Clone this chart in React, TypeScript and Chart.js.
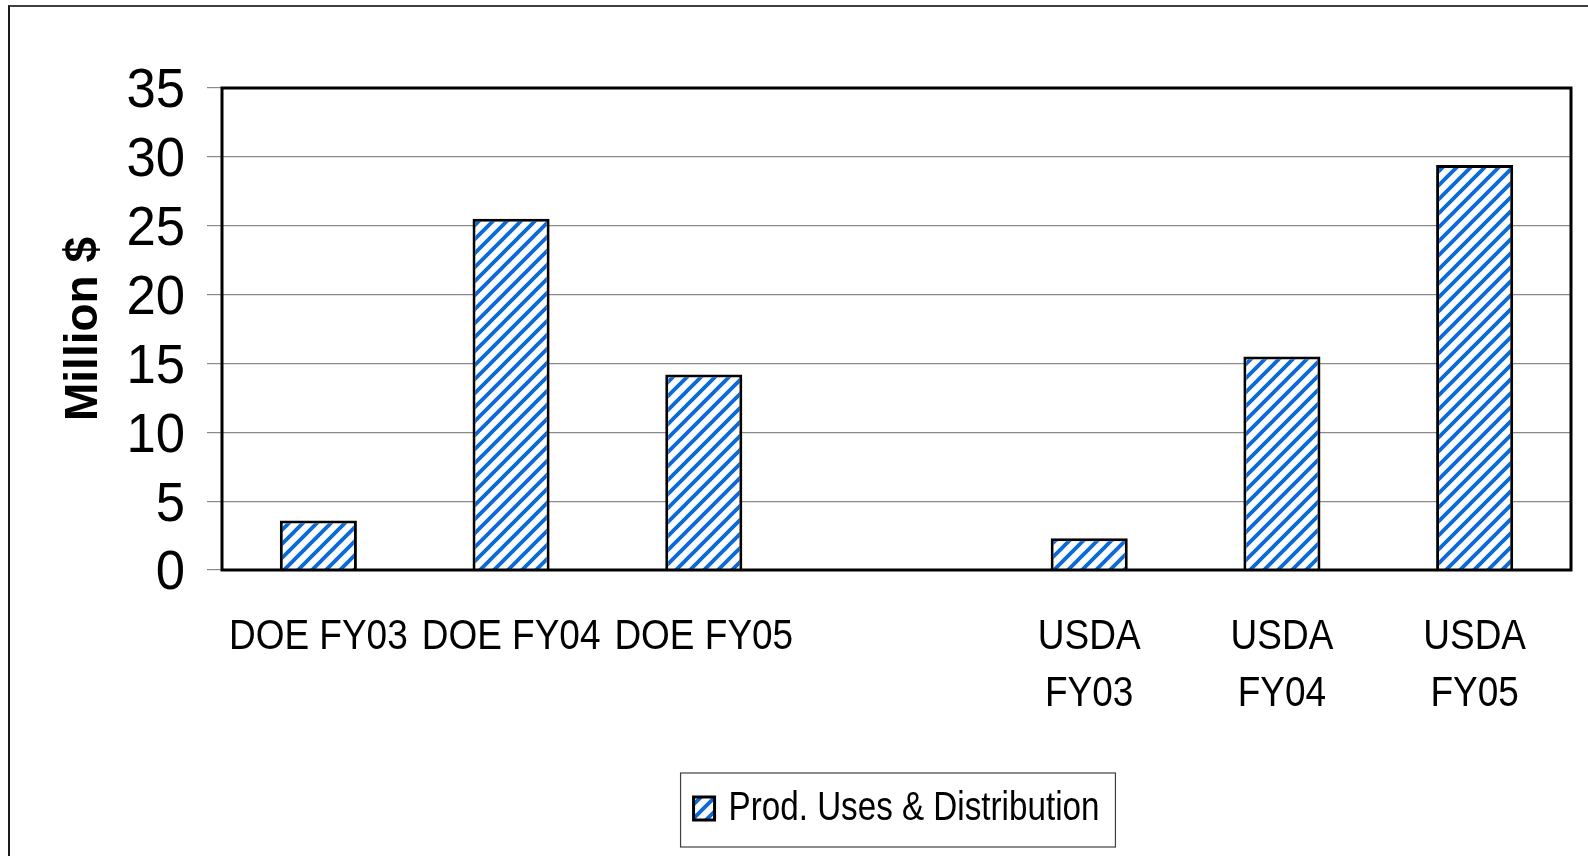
import React, { useEffect, useRef } from "react";
import { Chart, registerables } from "chart.js";

Chart.register(...registerables);

const categories: string[][] = [
  ["DOE FY03"],
  ["DOE FY04"],
  ["DOE FY05"],
  [""],
  ["USDA", "FY03"],
  ["USDA", "FY04"],
  ["USDA", "FY05"],
];
const seriesName = "Prod. Uses & Distribution";
const seriesValues: (number | null)[] = [3.6, 25.5, 14.2, null, 2.3, 15.5, 29.4];
const yTicks = [0, 5, 10, 15, 20, 25, 30, 35];
const yTitle = "Million $";

const SANS = '"Liberation Sans", Arial, sans-serif';

function makePattern(): CanvasPattern | string {
  const p = 14;
  const c = document.createElement("canvas");
  c.width = p;
  c.height = p;
  const g = c.getContext("2d");
  if (!g) return "#0066cc";
  g.fillStyle = "#ffffff";
  g.fillRect(0, 0, p, p);
  g.strokeStyle = "#0a6ad6";
  g.lineWidth = 3.8;
  g.lineCap = "square";
  g.beginPath();
  g.moveTo(-2, p + 2);
  g.lineTo(p + 2, -2);
  g.moveTo(-3, 3);
  g.lineTo(3, -3);
  g.moveTo(p - 3, p + 3);
  g.lineTo(p + 3, p - 3);
  g.stroke();
  const pat = g.createPattern(c, "repeat");
  return pat || "#0066cc";
}

function squeezedText(
  ctx: CanvasRenderingContext2D,
  text: string,
  x: number,
  y: number,
  sx: number,
  align: CanvasTextAlign,
  baseline: CanvasTextBaseline
) {
  ctx.save();
  ctx.translate(x, y);
  ctx.scale(sx, 1);
  ctx.textAlign = align;
  ctx.textBaseline = baseline;
  ctx.fillText(text, 0, 0);
  ctx.restore();
}

const framePlugin = {
  id: "frame",
  afterDatasetsDraw(chart: any) {
    const { ctx, chartArea } = chart;
    ctx.save();
    ctx.strokeStyle = "#000";
    ctx.lineWidth = 3;
    ctx.strokeRect(
      chartArea.left,
      chartArea.top,
      chartArea.right - chartArea.left,
      chartArea.bottom - chartArea.top
    );
    ctx.restore();
  },
  afterDraw(chart: any) {
    const { ctx, chartArea } = chart;
    const xs = chart.scales.x;
    const ys = chart.scales.y;
    ctx.save();
    ctx.fillStyle = "#000";

    // y tick labels
    ctx.font = `56px ${SANS}`;
    ys.ticks.forEach((t: any) => {
      const y = ys.getPixelForValue(t.value);
      squeezedText(ctx, String(t.value), chartArea.left - 15 - 22, y + 4, 0.94, "right", "middle");
    });

    // x tick labels
    ctx.font = `43px ${SANS}`;
    const labels = chart.data.labels as string[][];
    labels.forEach((lines, i) => {
      const x = xs.getPixelForTick(i);
      lines.forEach((ln, j) => {
        squeezedText(ctx, ln, x, chartArea.bottom + 79 + j * 57, 0.86, "center", "alphabetic");
      });
    });

    // legend
    const ds = chart.data.datasets[0];
    ctx.font = `40px ${SANS}`;
    const sx = 0.83;
    const textW = ctx.measureText(ds.label).width * sx;
    const boxW = 21;
    const boxH = 23;
    const gap = 14;
    const total = boxW + gap + textW;
    const cx = (chartArea.left + chartArea.right) / 2;
    const left = cx - total / 2;
    const baseY = chart.height - 36;
    ctx.fillStyle = ds.backgroundColor;
    ctx.fillRect(left, baseY - boxH, boxW, boxH);
    ctx.strokeStyle = "#000";
    ctx.lineWidth = 3;
    ctx.strokeRect(left, baseY - boxH, boxW, boxH);
    ctx.fillStyle = "#000";
    squeezedText(ctx, ds.label, left + boxW + gap, baseY, sx, "left", "alphabetic");
    ctx.strokeStyle = "#404040";
    ctx.lineWidth = 1.2;
    ctx.strokeRect(left - 13, baseY - 47, total + 29, 74);
    ctx.restore();
  },
};

export default function App() {
  const ref = useRef<HTMLCanvasElement | null>(null);

  useEffect(() => {
    if (!ref.current) return;
    const pattern = makePattern();
    const chart = new Chart(ref.current, {
      type: "bar",
      data: {
        labels: categories as any,
        datasets: [
          {
            label: seriesName,
            data: seriesValues as any,
            backgroundColor: pattern as any,
            borderColor: "#000",
            borderWidth: 3,
            barPercentage: 0.4,
            categoryPercentage: 1,
          },
        ],
      },
      options: {
        responsive: false,
        animation: false,
        layout: { padding: { top: 88, right: 17, left: 0, bottom: 76 } },
        plugins: {
          tooltip: { enabled: false },
          legend: { display: false },
        },
        scales: {
          x: {
            grid: { display: false },
            border: { display: false },
            ticks: { display: false, autoSkip: false, maxRotation: 0 },
            afterFit(scale: any) {
              scale.height = 210;
            },
          },
          y: {
            min: 0,
            max: 35,
            afterBuildTicks(scale: any) {
              scale.ticks = yTicks.map((v) => ({ value: v }));
            },
            grid: {
              color: "#8a8a8a",
              lineWidth: 1.2,
              tickLength: 15,
              drawTicks: true,
            },
            border: { display: false },
            ticks: { display: false, autoSkip: false },
            title: {
              display: true,
              text: yTitle,
              font: { family: SANS, size: 46, weight: "bold" },
              color: "#000",
              padding: { top: 57, bottom: 0 },
            },
            afterFit(scale: any) {
              scale.width = 222;
            },
          },
        },
      },
      plugins: [framePlugin],
    });
    return () => chart.destroy();
  }, []);

  return (
    <div style={{ position: "fixed", left: 0, top: 0, width: 1588, height: 856, overflow: "hidden", background: "#fff" }}>
      <div
        style={{
          position: "absolute",
          left: 8,
          top: 5,
          width: 1700,
          height: 1000,
          borderTop: "2px solid #404040",
          borderLeft: "2px solid #1a1a1a",
        }}
      />
      <canvas
        ref={ref}
        width={1588}
        height={856}
        style={{ position: "absolute", left: 0, top: 0, width: 1588, height: 856 }}
      />
    </div>
  );
}
